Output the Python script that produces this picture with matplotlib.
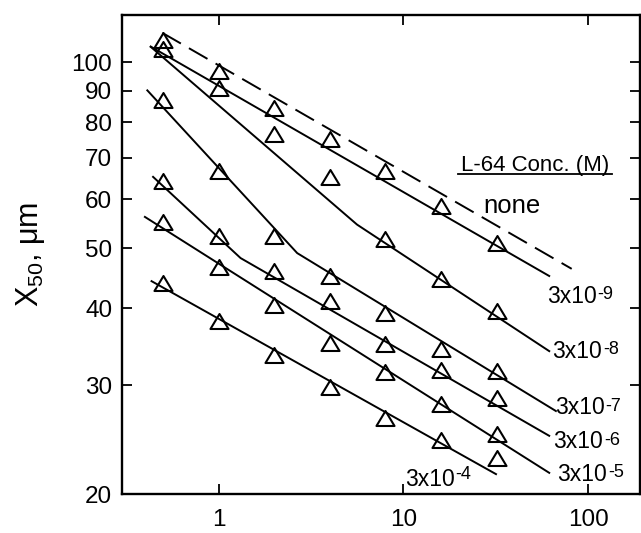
import matplotlib
matplotlib.use("Agg")
import matplotlib.pyplot as plt
from matplotlib.path import Path
from matplotlib.ticker import FixedLocator, NullLocator, FixedFormatter

plt.rcParams["font.family"] = ["Liberation Sans", "DejaVu Sans"]
plt.rcParams["mathtext.fontset"] = "custom"
plt.rcParams["mathtext.rm"] = "Liberation Sans"
plt.rcParams["mathtext.it"] = "Liberation Sans:italic"
plt.rcParams["mathtext.bf"] = "Liberation Sans:bold"
plt.rcParams["mathtext.default"] = "regular"

# measurement points
x_vals = [0.5, 1, 2, 4, 8, 16, 32]
s_3e9 = [108.8, 96.8, 84.4, 75.0, 66.7, 58.6, 51.0]
s_3e8 = [104.9, 90.9, 76.4, 65.2, 51.7, 44.6, 39.5]
s_3e7 = [87.0, 66.6, 52.4, 45.1, 39.2, 34.4, 31.6]
s_3e6 = [64.2, 52.4, 45.9, 41.1, 35.0, 31.7, 28.6]
s_3e5 = [55.1, 46.7, 40.5, 35.1, 31.5, 28.0, 25.0]
s_3e4 = [44.0, 38.1, 33.6, 29.8, 26.6, 24.5, 22.9]

# fitted power-law segments (vertices)
fit_none_x = [0.496, 81.6]
fit_none_y = [111.6, 46.3]
fit_3e9_x = [0.425, 62.3]
fit_3e9_y = [106.2, 45.0]
fit_3e8_x = [0.425, 5.62, 62.3]
fit_3e8_y = [106.2, 54.6, 34.0]
fit_3e7_x = [0.408, 2.664, 67.7]
fit_3e7_y = [90.3, 49.1, 27.2]
fit_3e6_x = [0.438, 1.315, 62.3]
fit_3e6_y = [65.4, 48.2, 24.8]
fit_3e5_x = [0.395, 62.3]
fit_3e5_y = [56.3, 21.6]
fit_3e4_x = [0.429, 32.1]
fit_3e4_y = [44.3, 21.5]

y_ticks = [20, 30, 40, 50, 60, 70, 80, 90, 100]
x_ticks = [1, 10, 100]
x_tick_labels = ["1", "10", "100"]
conc_exponents = ["-9", "-8", "-7", "-6", "-5", "-4"]

fig = plt.figure(figsize=(6.41, 5.33), dpi=100)
ax = fig.add_axes([122 / 641, 39 / 533, (639.5 - 122) / 641, (494 - 14.5) / 533])
ax.set_xscale("log")
ax.set_yscale("log")
ax.set_xlim(0.30, 190)
ax.set_ylim(20, 119.5)

tri = Path([(-1, -0.83), (1, -0.83), (0, 0.83), (-1, -0.83)],
           [Path.MOVETO, Path.LINETO, Path.LINETO, Path.CLOSEPOLY])

line_kw = dict(color="black", lw=1.4, solid_capstyle="butt")
ax.plot(fit_none_x, fit_none_y, color="black", lw=1.4, dashes=(11, 4.8))
for fx, fy in [(fit_3e9_x, fit_3e9_y), (fit_3e8_x, fit_3e8_y), (fit_3e7_x, fit_3e7_y),
               (fit_3e6_x, fit_3e6_y), (fit_3e5_x, fit_3e5_y), (fit_3e4_x, fit_3e4_y)]:
    ax.plot(fx, fy, **line_kw)

for s in [s_3e9, s_3e8, s_3e7, s_3e6, s_3e5, s_3e4]:
    ax.plot(x_vals, s, linestyle="none", marker=tri, markersize=13,
            markerfacecolor="none", markeredgecolor="black", markeredgewidth=1.5)

# concentration labels: "3x10" with a raised exponent
label_pos = [(60.2, 40.8), (64.1, 33.2), (66.5, 26.9), (64.9, 23.7), (68.2, 21.0), (10.25, 20.6)]
exp_raise = [-1.0, -1.0, -1.0, -1.0, -1.0, 1.5]
for exp, (lx, ly), dy in zip(conc_exponents, label_pos, exp_raise):
    base = ax.text(lx, ly, "3x10", fontsize=16.5, ha="left", va="baseline")
    ax.annotate(exp, xy=(1, 1), xycoords=base, xytext=(0.5, dy),
                textcoords="offset points", fontsize=13, ha="left", va="top")

ax.text(51.8, 66.6, "L-64 Conc. (M)", fontsize=16, ha="center", va="baseline")
ax.plot([19.86, 135.5], [65.9, 65.9], color="black", lw=1.3)
ax.text(27.1, 57.0, "none", fontsize=18.5, ha="left", va="baseline")

ax.set_ylabel("X$_{50}$, \u03bcm", fontsize=22, labelpad=18)

ax.xaxis.set_major_locator(FixedLocator(x_ticks))
ax.xaxis.set_major_formatter(FixedFormatter(x_tick_labels))
ax.xaxis.set_minor_locator(NullLocator())
ax.yaxis.set_major_locator(FixedLocator(y_ticks))
ax.yaxis.set_major_formatter(FixedFormatter([str(v) for v in y_ticks]))
ax.yaxis.set_minor_locator(NullLocator())

ax.tick_params(which="major", direction="in", length=7, width=1.3,
               top=True, right=True, labelsize=17.5)
ax.tick_params(axis="x", pad=11)
ax.tick_params(axis="y", pad=7)
for sp in ax.spines.values():
    sp.set_linewidth(1.7)

fig.savefig("out.png", dpi=100)
